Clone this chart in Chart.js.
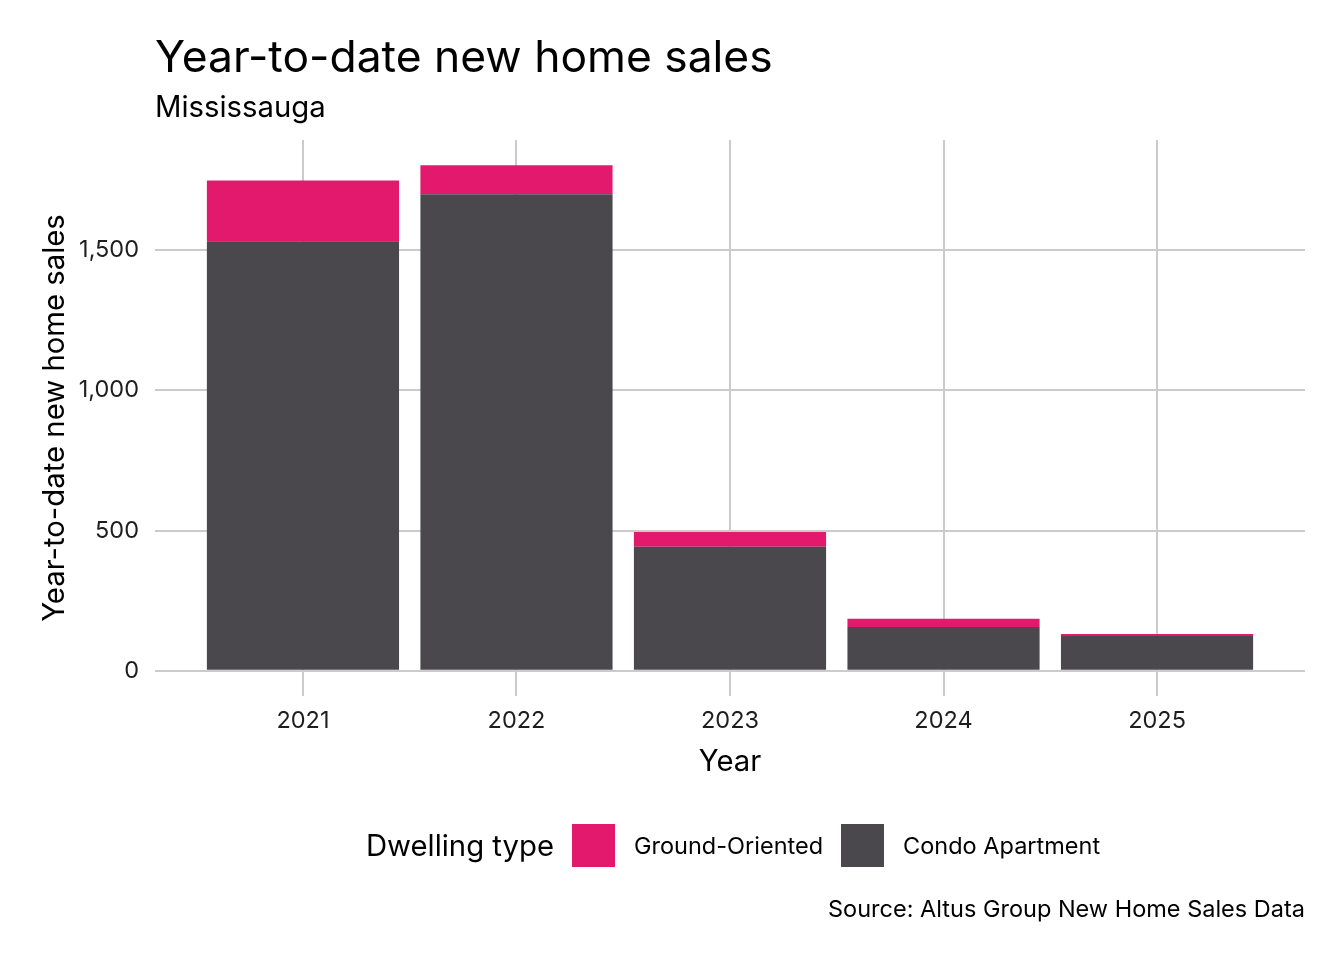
<!DOCTYPE html>
<html>
<head>
<meta charset="utf-8">
<script src="https://cdn.jsdelivr.net/npm/chart.js@4"></script>
<style>
  html, body { margin: 0; padding: 0; background: #ffffff; }
  #wrap { position: relative; width: 1344px; height: 960px; font-family: Inter, "Noto Sans", sans-serif; color: #000; }
  canvas { position: absolute; left: 0; top: 0; }
  #legend { position: absolute; left: 158px; width: 1150px; top: 823px; height: 44px; display: flex; align-items: center; justify-content: center; white-space: nowrap; }
  #legend .ttl { font-size: 29.3px; margin-right: 18px; }
  #legend .sw { width: 43px; height: 43px; margin-right: 19px; flex: none; }
  #legend .lb { font-size: 23.5px; margin-right: 18px; }
  #legend .lb:last-child { margin-right: 0; }
  #caption { position: absolute; right: 39px; top: 894px; font-size: 23.5px; line-height: 30px; white-space: nowrap; }
</style>
</head>
<body>
<div id="wrap">
  <canvas id="c" width="1344" height="960"></canvas>
  <div id="legend"></div>
  <div id="caption">Source: Altus Group New Home Sales Data</div>
</div>
<script>
// ---- data ----
const years = [2021, 2022, 2023, 2024, 2025];
const condoApartment = [1532, 1700, 442, 156, 124];
const groundOriented = [217, 103, 53, 29, 7];
const yTicks = [0, 500, 1000, 1500];
const seriesNames = ["Condo Apartment", "Ground-Oriented"];
const legendOrder = ["Ground-Oriented", "Condo Apartment"];

const colors = { "Condo Apartment": "#4a484c", "Ground-Oriented": "#e3196e" };

const totals = years.map((y, i) => condoApartment[i] + groundOriented[i]);
const maxTotal = Math.max(...totals);
const expand = maxTotal * 0.05;

const FONT = "Inter, 'Noto Sans', sans-serif";
const BASE = 29.3;
const SMALL = 23.5;

const titlePlugin = {
  id: 'titles',
  afterDraw(chart) {
    const ctx = chart.ctx;
    const left = chart.chartArea.left;
    ctx.save();
    ctx.fillStyle = '#000';
    ctx.textAlign = 'left';
    ctx.textBaseline = 'alphabetic';
    ctx.font = "44.4px " + FONT;
    ctx.fillText("Year-to-date new home sales", left, 72);
    ctx.font = BASE + "px " + FONT;
    ctx.fillText("Mississauga", left, 117);
    ctx.restore();
  }
};

const chart = new Chart(document.getElementById('c'), {
  type: 'bar',
  data: {
    datasets: [
      {
        label: seriesNames[0],
        data: years.map((y, i) => ({ x: y, y: condoApartment[i] })),
        backgroundColor: colors[seriesNames[0]],
        borderWidth: 0,
        categoryPercentage: 1,
        barPercentage: 0.9
      },
      {
        label: seriesNames[1],
        data: years.map((y, i) => ({ x: y, y: groundOriented[i] })),
        backgroundColor: colors[seriesNames[1]],
        borderWidth: 0,
        categoryPercentage: 1,
        barPercentage: 0.9
      }
    ]
  },
  options: {
    responsive: false,
    animation: false,
    devicePixelRatio: 1,
    layout: { padding: { left: 0, right: 39, top: 140, bottom: 170 } },
    plugins: {
      legend: { display: false },
      title: { display: false },
      tooltip: { enabled: false }
    },
    scales: {
      x: {
        type: 'linear',
        stacked: true,
        offset: false,
        min: years[0] - 0.693,
        max: years[years.length - 1] + 0.693,
        afterBuildTicks(scale) { scale.ticks = years.map(v => ({ value: v })); },
        afterFit(scale) { scale.height = 94; },
        grid: { color: '#cbcbcb', lineWidth: 2, drawTicks: false, offset: false },
        border: { display: false },
        ticks: {
          padding: 11,
          color: '#1e1e1e',
          font: { family: FONT, size: SMALL },
          callback: (v) => String(v),
          maxRotation: 0,
          autoSkip: false
        },
        title: {
          display: true,
          text: 'Year',
          color: '#000',
          font: { family: FONT, size: BASE },
          padding: { top: 0, bottom: 10 }
        }
      },
      y: {
        stacked: true,
        min: -expand,
        max: maxTotal + expand,
        afterBuildTicks(scale) { scale.ticks = yTicks.map(v => ({ value: v })); },
        afterFit(scale) { scale.width = 155; },
        grid: { color: '#cbcbcb', lineWidth: 2, drawTicks: false },
        border: { display: false },
        ticks: {
          padding: 16,
          color: '#1e1e1e',
          font: { family: FONT, size: SMALL },
          callback: (v) => v.toLocaleString('en-US')
        },
        title: {
          display: true,
          text: 'Year-to-date new home sales',
          color: '#000',
          font: { family: FONT, size: BASE },
          padding: { top: 38, bottom: 0 }
        }
      }
    }
  },
  plugins: [titlePlugin]
});

// HTML legend built from the chart's datasets
const leg = document.getElementById('legend');
const t = document.createElement('span');
t.className = 'ttl';
t.textContent = 'Dwelling type';
leg.appendChild(t);
legendOrder.forEach(name => {
  const ds = chart.data.datasets.find(d => d.label === name);
  const sw = document.createElement('span');
  sw.className = 'sw';
  sw.style.background = ds.backgroundColor;
  const lb = document.createElement('span');
  lb.className = 'lb';
  lb.textContent = ds.label;
  leg.appendChild(sw);
  leg.appendChild(lb);
});
</script>
</body>
</html>
